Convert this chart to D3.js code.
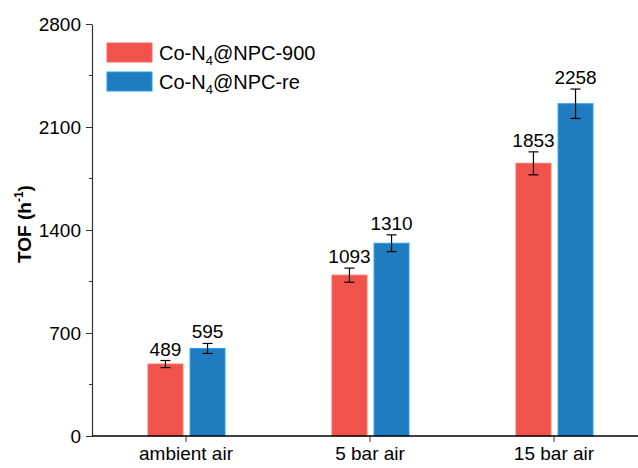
<!DOCTYPE html>
<html>
<head>
<meta charset="utf-8">
<script src="https://cdn.jsdelivr.net/npm/d3@7"></script>
<style>
body { margin: 0; background: #fff; }
text { font-family: "Liberation Sans", Arial, sans-serif; }
</style>
</head>
<body>
<div id="chart"></div>
<script>
// data
var categories = ["ambient air", "5 bar air", "15 bar air"];
var seriesNames = ["Co-N4@NPC-900", "Co-N4@NPC-re"];
var tof900 = [489, 1093, 1853];
var tofRe = [595, 1310, 2258];
var err900 = [24, 48, 78];
var errRe = [34, 57, 100];
var yTicks = [0, 700, 1400, 2100, 2800];
var yMinor = [350, 1050, 1750, 2450];
var colors = ["#ef534b", "#1f7dbf"];

var W = 638, H = 468;
var margin = {top: 24, left: 92, bottom: 32};
var plotBottom = H - margin.bottom;

var svg = d3.select("#chart")
  .append("svg")
    .attr("width", W)
    .attr("height", H);

var y = d3.scaleLinear()
  .domain([0, 2800])
  .range([plotBottom, margin.top]);

var x = d3.scaleBand()
  .domain(categories)
  .range([94, 646]);

var xSub = d3.scaleBand()
  .domain([0, 1])
  .range([x.bandwidth() / 2 - 38, x.bandwidth() / 2 + 39])
  .paddingInner(0.17);

var rows = [];
categories.forEach(function(c, i) {
  rows.push({cat: c, s: 0, v: tof900[i], e: err900[i]});
  rows.push({cat: c, s: 1, v: tofRe[i], e: errRe[i]});
});

// bars
var g = svg.selectAll(".bar")
  .data(rows)
  .enter().append("g")
  .attr("transform", function(d) { return "translate(" + (x(d.cat) + xSub(d.s)) + ",0)"; });

g.append("rect")
  .attr("x", 0)
  .attr("y", function(d) { return y(d.v); })
  .attr("width", xSub.bandwidth())
  .attr("height", function(d) { return plotBottom - y(d.v); })
  .attr("fill", function(d) { return colors[d.s]; })
  .attr("stroke", function(d) { return d3.color(colors[d.s]).brighter(0.6); })
  .attr("stroke-width", 1);

// error bars
var bw = xSub.bandwidth();
g.append("line")
  .attr("x1", bw / 2).attr("x2", bw / 2)
  .attr("y1", function(d) { return y(d.v + d.e); })
  .attr("y2", function(d) { return y(d.v - d.e); })
  .attr("stroke", "#000").attr("stroke-width", 1.2);
g.append("line")
  .attr("x1", bw / 2 - 5).attr("x2", bw / 2 + 5)
  .attr("y1", function(d) { return y(d.v + d.e); })
  .attr("y2", function(d) { return y(d.v + d.e); })
  .attr("stroke", "#000").attr("stroke-width", 1.2);
g.append("line")
  .attr("x1", bw / 2 - 5).attr("x2", bw / 2 + 5)
  .attr("y1", function(d) { return y(d.v - d.e); })
  .attr("y2", function(d) { return y(d.v - d.e); })
  .attr("stroke", "#000").attr("stroke-width", 1.2);

// value labels
g.append("text")
  .attr("x", bw / 2)
  .attr("y", function(d) { return y(d.v + d.e) - 5; })
  .attr("text-anchor", "middle")
  .style("font-size", "19px")
  .text(function(d) { return d.v; });

// y axis
var yAxis = svg.append("g")
  .attr("transform", "translate(" + margin.left + ",0)")
  .call(d3.axisLeft(y).tickValues(yTicks).tickFormat(d3.format("d")).tickSize(6).tickSizeOuter(0).tickPadding(5));
yAxis.selectAll("text").style("font-size", "19px").style("font-family", "Liberation Sans, Arial, sans-serif").attr("fill", "#000");
yAxis.select(".domain").attr("stroke", "#333").attr("stroke-width", 1.2);
yAxis.selectAll(".tick line").attr("stroke", "#333");

// minor ticks
svg.append("g")
  .selectAll("line")
  .data(yMinor)
  .enter().append("line")
  .attr("x1", margin.left - 3).attr("x2", margin.left)
  .attr("y1", function(d) { return y(d); })
  .attr("y2", function(d) { return y(d); })
  .attr("stroke", "#333");

// x axis
var xAxis = svg.append("g")
  .attr("transform", "translate(0," + plotBottom + ")")
  .call(d3.axisBottom(x).tickSize(6).tickSizeOuter(0).tickPadding(5));
xAxis.select(".domain").remove();
xAxis.selectAll("text").style("font-size", "19px").style("font-family", "Liberation Sans, Arial, sans-serif").attr("fill", "#000");
xAxis.selectAll(".tick line").attr("stroke", "#333");
svg.append("line")
  .attr("x1", margin.left).attr("x2", W)
  .attr("y1", plotBottom).attr("y2", plotBottom)
  .attr("stroke", "#000").attr("stroke-width", 1.5);

// y title
var yt = svg.append("text")
  .attr("transform", "translate(31,224) rotate(-90)")
  .attr("text-anchor", "middle")
  .style("font-size", "19px")
  .style("font-weight", "bold");
yt.append("tspan").text("TOF (h");
yt.append("tspan").attr("dy", -8).style("font-size", "12px").text("-1");
yt.append("tspan").attr("dy", 8).text(")");

// legend
var legend = svg.append("g")
  .selectAll("g")
  .data(seriesNames)
  .enter().append("g")
  .attr("transform", function(d, i) { return "translate(107," + (43 + i * 29) + ")"; });

legend.append("rect")
  .attr("width", 45)
  .attr("height", 19)
  .attr("fill", function(d, i) { return colors[i]; })
  .attr("stroke", function(d, i) { return d3.color(colors[i]).brighter(0.6); });

legend.each(function(d, i) {
  var t = d3.select(this).append("text")
    .attr("x", 52)
    .attr("y", 17)
    .style("font-size", "20px");
  var parts = d.split("N4");
  t.append("tspan").text(parts[0] + "N");
  t.append("tspan").attr("dy", 5).style("font-size", "13px").text("4");
  t.append("tspan").attr("dy", -5).text(parts[1]);
});
</script>
</body>
</html>
